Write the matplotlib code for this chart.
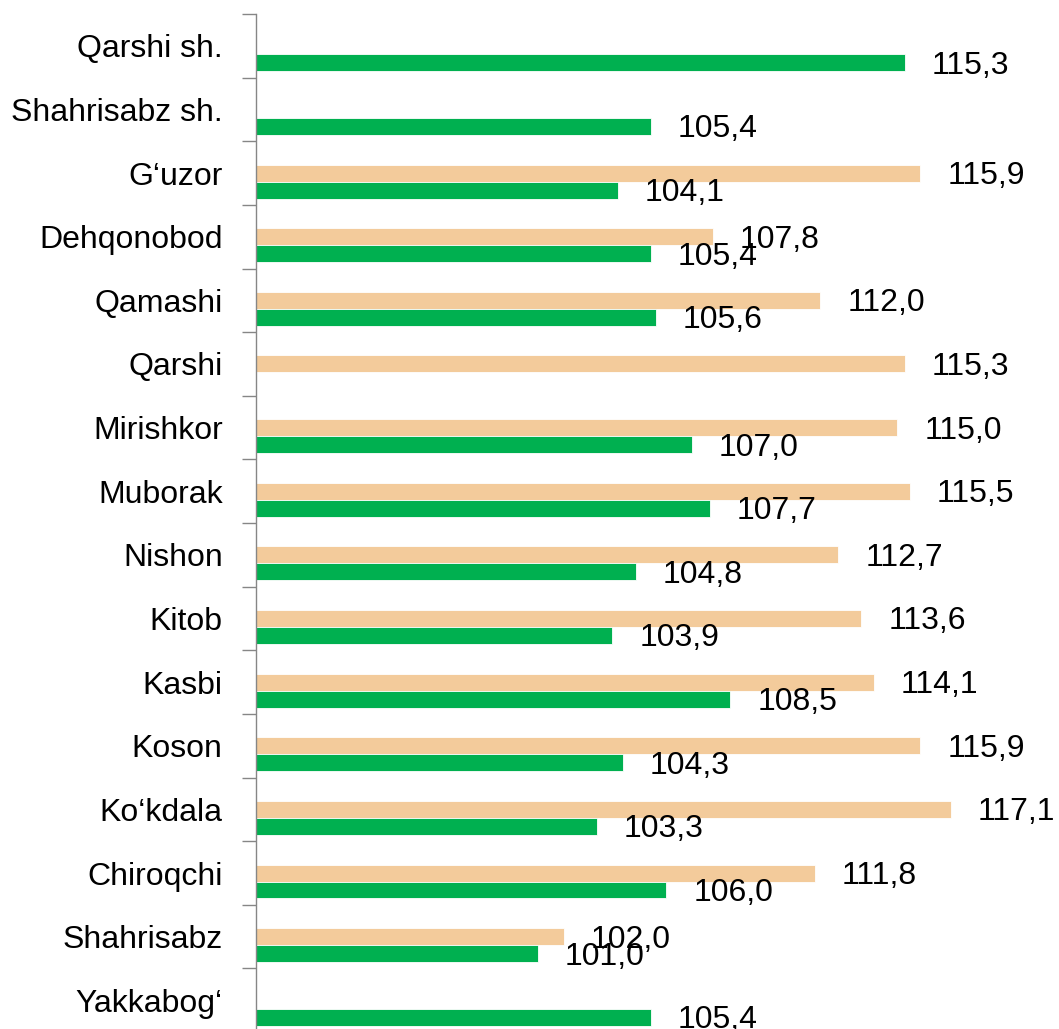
import numpy as np
import matplotlib.pyplot as plt

plt.rcParams['font.family'] = ['Liberation Sans', 'DejaVu Sans']

categories = ['Qarshi sh.', 'Shahrisabz sh.', 'G‘uzor', 'Dehqonobod', 'Qamashi',
              'Qarshi', 'Mirishkor', 'Muborak', 'Nishon', 'Kitob', 'Kasbi',
              'Koson', 'Ko‘kdala', 'Chiroqchi', 'Shahrisabz', 'Yakkabog‘']
tan_vals = [None, None, 115.9, 107.8, 112.0, 115.3, 115.0, 115.5, 112.7,
            113.6, 114.1, 115.9, 117.1, 111.8, 102.0, None]
green_vals = [115.3, 105.4, 104.1, 105.4, 105.6, None, 107.0, 107.7, 104.8,
              103.9, 108.5, 104.3, 103.3, 106.0, 101.0, 105.4]

xmin = 90
green = '#00B050'
tan = '#F3CB9B'

fig = plt.figure(figsize=(10.59, 10.29), dpi=100)
ax = fig.add_axes([0.2417, -0.003, 0.7266, 0.9894])

y = np.arange(len(categories))
h = 0.267

def fmt(v):
    return f"{v:.1f}".replace('.', ',')

for series, off, col in [(tan_vals, 0.0, tan), (green_vals, h, green)]:
    for yi, v in zip(y, series):
        if v is None:
            continue
        ax.barh(yi + off, v - xmin, left=xmin, height=h, color=col,
                edgecolor='white', linewidth=0.6)
        ax.annotate(fmt(v), (v, yi + off), xytext=(27, -3),
                    textcoords='offset pixels', ha='left', va='center',
                    fontsize=23, color='black')

ax.set_xlim(xmin, 120)
ax.set_ylim(len(categories) - 0.5, -0.5)
ax.set_yticks(y)
ax.set_yticklabels(categories, fontsize=23)
ax.tick_params(axis='y', which='major', length=0, pad=24)
ax.set_yticks(np.arange(len(categories) + 1) - 0.5, minor=True)
ax.tick_params(axis='y', which='minor', length=10, width=1, color='#868686')
ax.set_xticks([])
for s in ['top', 'right', 'bottom']:
    ax.spines[s].set_visible(False)
ax.spines['left'].set_color('#868686')
ax.spines['left'].set_linewidth(1)

fig.savefig('out.png', dpi=100)
